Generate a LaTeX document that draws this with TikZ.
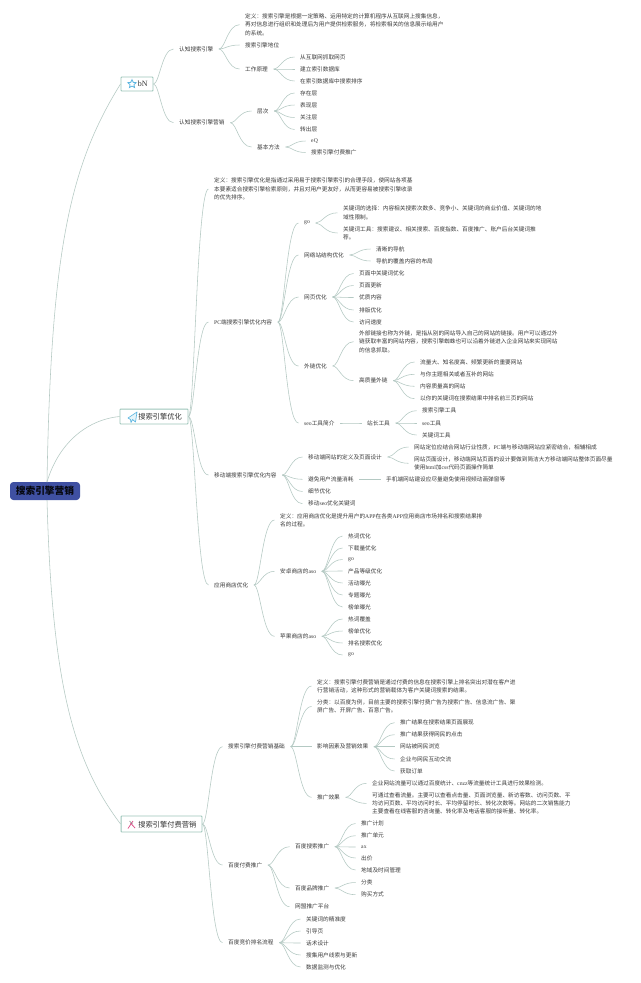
\documentclass[tikz,border=0pt]{standalone}
\usepackage{fontspec}
\setmainfont{Noto Sans CJK SC}
\newfontfamily\latfont{Liberation Serif}
\usetikzlibrary{calc,shapes.geometric}
\newcommand{\lat}[1]{{\latfont #1}}
\definecolor{linkc}{HTML}{B4C9C3}
\definecolor{txtc}{HTML}{3A3A3A}
\definecolor{boxc}{HTML}{9CC6BA}
\definecolor{rootc}{HTML}{3F50A2}
\definecolor{iconb}{HTML}{5BB5E0}
\definecolor{iconp}{HTML}{E0568E}
\tikzset{
 txt/.style={anchor=west,inner xsep=4.1pt,inner ysep=0pt,align=left,text=txtc,font=\fontsize{4.25}{6.15}\selectfont},
 conn/.style={draw=linkc,line width=0.42pt},
 branchbox/.style={draw=boxc,line width=0.7pt,fill=white,rounded corners=0.5pt,inner sep=0pt},
 branchtxt/.style={anchor=west,inner sep=0pt,text=black!80,font=\fontsize{5.45}{7}\selectfont},
}
\newcommand{\mn}[4]{\node[txt] (#1) at (#2-5.5,#3) {#4};}
\newcommand{\cn}[2]{\draw[conn] let \p1=(#1.east),\p2=(#2.west),\n1={0.3*(\x2-\x1)},\n2={0.42*(\x2-\x1)} in (\p1) .. controls (\x1+\n1,\y1) and (\x1+\n2,\y2) .. (\p2);}
\begin{document}
\begin{tikzpicture}[x=0.75pt,y=-0.75pt]
\useasboundingbox (0,0) rectangle (640,983);
\fill[white] (0,0) rectangle (640,983);
% root
\coordinate (rootup) at (47,482);
\coordinate (rootdown) at (47,500);
\node[draw=none,fill=rootc,rounded corners=2.5pt,minimum width=52.5pt,minimum height=13.5pt,inner sep=0pt,text=black!90!rootc,font=\fontsize{7.3}{9}\selectfont\bfseries] (root) at (45,491) {搜索引擎营销};
% branch boxes
\node[branchbox,minimum width=24pt,minimum height=10.5pt] (b1) at (137,84) {};
\node[branchbox,minimum width=51pt,minimum height=11.2pt] (b2) at (154,416.5) {};
\node[branchbox,minimum width=60.7pt,minimum height=12pt] (b3) at (161.5,824) {};
\node[branchtxt,font=\fontsize{6}{7}\selectfont\latfont] (b1t) at (137.5,84) {bN};
\node[branchtxt] (b2t) at (138,417) {搜索引擎优化};
\node[branchtxt] (b3t) at (138,824.5) {搜索引擎付费营销};
\node[star,star points=5,star point ratio=2.1,draw=iconb,line width=0.6pt,minimum size=6.5pt,inner sep=0pt] (b1i) at (132,84) {};
\draw[draw=iconb,fill=iconb!15,line width=0.5pt,line join=round] (128,418) -- (137,412) -- (135.5,422) -- (132.5,419.5) -- (131,422.5) -- (130.5,419.5) -- cycle;
\draw[draw=iconp,line width=0.6pt] (128,828.5) -- (133,821);
\draw[draw=iconp,line width=0.6pt] (130.5,823) -- (135,828);
\draw[draw=gray,line width=0.35pt] (129.5,821) -- (132.5,824);
\draw[conn] (rootup) .. controls (51,250) and (70,165) .. (b1.west);
\draw[conn] (rootup) .. controls (58,445) and (85,420) .. (b2.west);
\draw[conn] (rootdown) .. controls (52,680) and (72,760) .. (b3.west);

% branch 1
\mn{a1}{179}{49}{认知搜索引擎}
\mn{a11}{245}{24.7}{定义：搜索引擎是根据一定策略、运用特定的计算机程序从互联网上搜集信息，\\再对信息进行组织和处理后为用户提供检索服务，将检索相关的信息展示给用户\\的系统。}
\mn{a12}{245}{45}{搜索引擎地位}
\mn{a13}{245}{69}{工作原理}
\mn{a131}{300}{57}{从互联网抓取网页}
\mn{a132}{300}{69}{建立索引数据库}
\mn{a133}{300}{81}{在索引数据库中搜索排序}
\mn{a2}{179}{122.7}{认知搜索引擎营销}
\mn{a21}{257}{111}{层次}
\mn{a211}{300}{93}{存在层}
\mn{a212}{300}{105}{表现层}
\mn{a213}{300}{117.5}{关注层}
\mn{a214}{300}{129.5}{转出层}
\mn{a22}{257}{147}{基本方法}
\mn{a221}{311}{141}{\lat{eQ}}
\mn{a222}{311}{152.5}{搜索引擎付费推广}
\cn{b1}{a1}\cn{b1}{a2}
\cn{a1}{a11}\cn{a1}{a12}\cn{a1}{a13}
\cn{a13}{a131}\cn{a13}{a132}\cn{a13}{a133}
\cn{a2}{a21}\cn{a2}{a22}
\cn{a21}{a211}\cn{a21}{a212}\cn{a21}{a213}\cn{a21}{a214}
\cn{a22}{a221}\cn{a22}{a222}

% branch 2
\mn{c0}{214}{189}{定义：搜索引擎优化是指通过采用易于搜索引擎索引的合理手段，使网站各项基\\本要素适合搜索引擎检索原则，并且对用户更友好，从而更容易被搜索引擎收录\\的优先排序。}
\mn{c1}{214}{322}{\lat{PC}端搜索引擎优化内容}
\mn{c11}{304}{223}{\lat{go}}
\mn{c111}{343}{212.8}{关键词的选择：内容相关搜索次数多、竞争小、关键词的商业价值、关键词的地\\域性限制。}
\mn{c112}{343}{233}{关键词工具：搜索建议、相关搜索、百度指数、百度推广、账户后台关键词推\\荐。}
\mn{c12}{304}{255}{网络站结构优化}
\mn{c121}{376}{249}{清晰的导航}
\mn{c122}{376}{261}{导航的覆盖内容的布局}
\mn{c13}{304}{297}{网页优化}
\mn{c131}{359}{273.5}{页面中关键词优化}
\mn{c132}{359}{285.5}{页面更新}
\mn{c133}{359}{297.5}{优质内容}
\mn{c134}{359}{310}{排版优化}
\mn{c135}{359}{322}{访问速度}
\mn{c14}{304}{366}{外链优化}
\mn{c141}{359}{341.7}{外部链接也称为外链，是指从别的网站导入自己的网站的链接。用户可以通过外\\链获取丰富的网站内容，搜索引擎蜘蛛也可以沿着外链进入企业网站来实现网站\\的信息抓取。}
\mn{c142}{359}{380.7}{高质量外链}
\mn{c1421}{420}{362}{流量大、知名度高、频繁更新的重要网站}
\mn{c1422}{420}{374.3}{与你主题相关或者互补的网站}
\mn{c1423}{420}{386.3}{内容质量高的网站}
\mn{c1424}{420}{398.7}{以你的关键词在搜索结果中排名前三页的网站}
\mn{c15}{304}{423}{\lat{seo}工具简介}
\mn{c151}{367}{423}{站长工具}
\mn{c1511}{422}{410.7}{搜索引擎工具}
\mn{c1512}{422}{423}{\lat{seo}工具}
\mn{c1513}{422}{435}{关键词工具}
\mn{c2}{214}{475}{移动端搜索引擎优化内容}
\mn{c21}{308}{457}{移动端网站的定义及页面设计}
\mn{c211}{414}{447}{网站定位应结合网站行业性质，\lat{PC}端与移动端网站应紧密结合，相辅相成}
\mn{c212}{414}{463.3}{网站页面设计，移动端网站页面的设计要做到简洁大方移动端网站整体页面尽量\\使用\lat{html}加\lat{css}代码页面操作简单}
\mn{c22}{308}{479.3}{避免用户流量消耗}
\mn{c221}{386}{479.3}{手机端网站建设应尽量避免使用视频动画弹窗等}
\mn{c23}{308}{491.5}{细节优化}
\mn{c24}{308}{503.7}{移动\lat{seo}优化关键词}
\mn{c3}{214}{585}{应用商店优化}
\mn{c31}{280}{520}{定义：应用商店优化是提升用户的\lat{APP}在各类\lat{APP}应用商店市场排名和搜索结果排\\名的过程。}
\mn{c32}{280}{571.3}{安卓商店的\lat{aso}}
\mn{c321}{348}{536}{热词优化}
\mn{c322}{348}{548}{下载量优化}
\mn{c323}{348}{559.5}{\lat{go}}
\mn{c324}{348}{571}{产品等级优化}
\mn{c325}{348}{583}{活动曝光}
\mn{c326}{348}{595}{专题曝光}
\mn{c327}{348}{607}{榜单曝光}
\mn{c33}{280}{636.3}{苹果商店的\lat{aso}}
\mn{c331}{348}{619}{热词覆盖}
\mn{c332}{348}{631}{榜单优化}
\mn{c333}{348}{643}{排名搜索优化}
\mn{c334}{348}{655}{\lat{go}}
\cn{b2}{c0}\cn{b2}{c1}\cn{b2}{c2}\cn{b2}{c3}
\cn{c1}{c11}\cn{c1}{c12}\cn{c1}{c13}\cn{c1}{c14}\cn{c1}{c15}
\cn{c11}{c111}\cn{c11}{c112}
\cn{c12}{c121}\cn{c12}{c122}
\cn{c13}{c131}\cn{c13}{c132}\cn{c13}{c133}\cn{c13}{c134}\cn{c13}{c135}
\cn{c14}{c141}\cn{c14}{c142}
\cn{c142}{c1421}\cn{c142}{c1422}\cn{c142}{c1423}\cn{c142}{c1424}
\cn{c15}{c151}
\cn{c151}{c1511}\cn{c151}{c1512}\cn{c151}{c1513}
\cn{c2}{c21}\cn{c2}{c22}\cn{c2}{c23}\cn{c2}{c24}
\cn{c21}{c211}\cn{c21}{c212}
\cn{c22}{c221}
\cn{c3}{c31}\cn{c3}{c32}\cn{c3}{c33}
\cn{c32}{c321}\cn{c32}{c322}\cn{c32}{c323}\cn{c32}{c324}\cn{c32}{c325}\cn{c32}{c326}\cn{c32}{c327}
\cn{c33}{c331}\cn{c33}{c332}\cn{c33}{c333}\cn{c33}{c334}

% branch 3
\mn{d1}{228}{746.7}{搜索引擎付费营销基础}
\mn{d11}{317}{686}{定义：搜索引擎付费营销是通过付费的信息在搜索引擎上排名突出对潜在客户进\\行营销活动，这种形式的营销载体为客户关键词搜索的结果。}
\mn{d12}{317}{706.5}{分类：以百度为例，目前主要的搜索引擎付费广告为搜索广告、信息流广告、聚\\屏广告、开屏广告、百意广告。}
\mn{d13}{317}{746.7}{影响因素及营销效果}
\mn{d131}{400}{722.7}{推广结果在搜索结果页面展现}
\mn{d132}{400}{734.7}{推广结果获得网民的点击}
\mn{d133}{400}{746.7}{网站被网民浏览}
\mn{d134}{400}{759}{企业与网民互动交流}
\mn{d135}{400}{771}{获取订单}
\mn{d14}{317}{797.3}{推广效果}
\mn{d141}{372}{783.3}{企业网站流量可以通过百度统计、\lat{cnzz}等流量统计工具进行效果检测。}
\mn{d142}{372}{803.4}{可通过查看流量。主要可以查看点击量、页面浏览量、新访客数、访问页数、平\\均访问页数、平均访问时长、平均停留时长、转化次数等。网站的二次销售能力\\主要查看在线客服的咨询量、转化率及电话客服的接听量、转化率。}
\mn{d2}{228}{865}{百度付费推广}
\mn{d21}{295}{846.7}{百度搜索推广}
\mn{d211}{361}{823.5}{推广计划}
\mn{d212}{361}{835.7}{推广单元}
\mn{d213}{361}{847}{\lat{ax}}
\mn{d214}{361}{858}{出价}
\mn{d215}{361}{870}{地域及时间管理}
\mn{d22}{295}{888}{百度品牌推广}
\mn{d221}{361}{882.5}{分类}
\mn{d222}{361}{894.7}{购买方式}
\mn{d23}{295}{906.7}{网盟推广平台}
\mn{d3}{228}{942.7}{百度竞价排名流程}
\mn{d31}{306}{919}{关键词的精准度}
\mn{d32}{306}{931}{引导页}
\mn{d33}{306}{943}{话术设计}
\mn{d34}{306}{955}{搜集用户线索与更新}
\mn{d35}{306}{967}{数据监测与优化}
\cn{b3}{d1}\cn{b3}{d2}\cn{b3}{d3}
\cn{d1}{d11}\cn{d1}{d12}\cn{d1}{d13}\cn{d1}{d14}
\cn{d13}{d131}\cn{d13}{d132}\cn{d13}{d133}\cn{d13}{d134}\cn{d13}{d135}
\cn{d14}{d141}\cn{d14}{d142}
\cn{d2}{d21}\cn{d2}{d22}\cn{d2}{d23}
\cn{d21}{d211}\cn{d21}{d212}\cn{d21}{d213}\cn{d21}{d214}\cn{d21}{d215}
\cn{d22}{d221}\cn{d22}{d222}
\cn{d3}{d31}\cn{d3}{d32}\cn{d3}{d33}\cn{d3}{d34}\cn{d3}{d35}
\end{tikzpicture}
\end{document}
